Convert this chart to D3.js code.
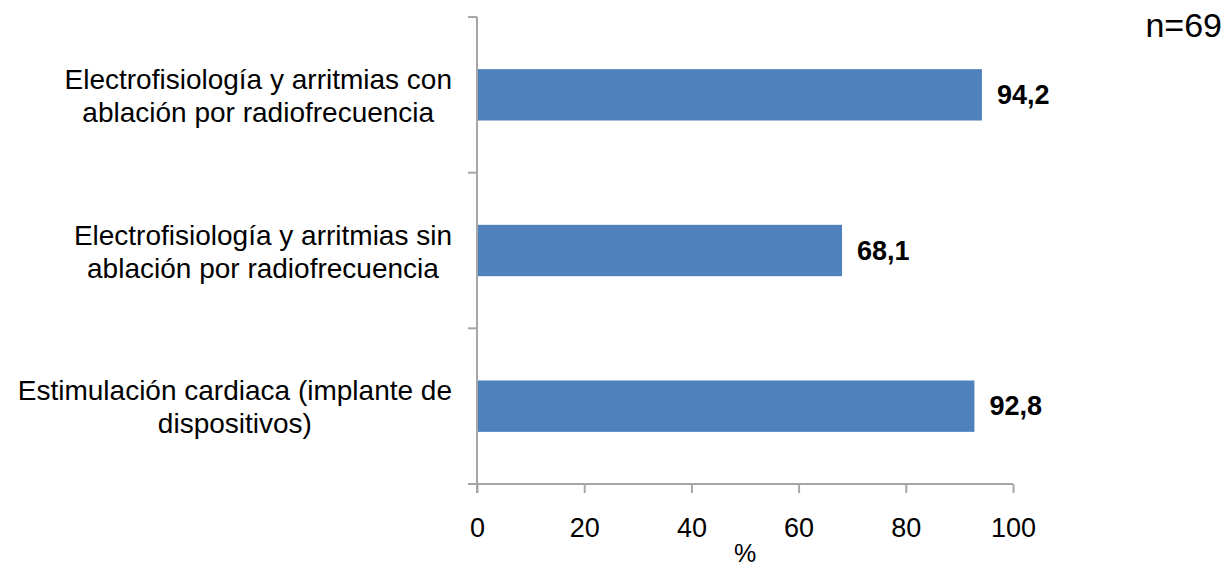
<!DOCTYPE html>
<html><head><meta charset="utf-8">
<script src="https://cdn.jsdelivr.net/npm/d3@7"></script>
<style>body{margin:0;background:#fff;}svg{display:block;font-family:"Liberation Sans",Arial,sans-serif;}</style>
</head><body>
<svg id="c" width="1227" height="568"></svg>
<script>
const categories = [
  ["Electrofisiología y arritmias con", "ablación por radiofrecuencia"],
  ["Electrofisiología y arritmias sin", "ablación por radiofrecuencia"],
  ["Estimulación cardiaca (implante de", "dispositivos)"]
];
const values = [94.2, 68.1, 92.8];
const valueLabels = ["94,2", "68,1", "92,8"];
const xTicks = [0, 20, 40, 60, 80, 100];
const nLabel = "n=69";
const axisTitle = "%";

(function () {
const svg = d3.select("#c");
const mLeft = 477, mRight = 1013, mTop = 17, mBottom = 484;
const x = d3.scaleLinear().domain([0, 100]).range([mLeft, mRight]);
const y = d3.scaleBand().domain(d3.range(categories.length)).range([mTop, mBottom]).paddingInner(0.67).paddingOuter(0.335);
const axisColor = "#a6a6a6";

// bars
svg.selectAll("rect.bar").data(values).join("rect").attr("class", "bar")
  .attr("x", x(0)).attr("y", (d, i) => y(i))
  .attr("width", d => x(d) - x(0)).attr("height", y.bandwidth())
  .attr("fill", "#4f81bd");

// x axis
const xa = svg.append("g").attr("transform", `translate(0,${mBottom})`)
  .call(d3.axisBottom(x).tickValues(xTicks).tickSize(9).tickSizeOuter(9).tickPadding(8).tickFormat(d3.format("d")));
xa.select(".domain").attr("stroke", axisColor).attr("stroke-width", 2).attr("d", `M${mLeft-9},0H${mRight}`);
xa.selectAll(".tick line").attr("stroke", axisColor).attr("stroke-width", 2);
xa.selectAll(".tick text").attr("fill", "#000").style("font-size", "27px")
  .style("font-family", "'Liberation Sans',Arial,sans-serif").attr("dy", null).attr("y", 53);

// y axis line and ticks at band boundaries
const yBounds = d3.range(categories.length + 1).map(i => mTop + i * (mBottom - mTop) / categories.length);
svg.append("line").attr("x1", mLeft).attr("x2", mLeft).attr("y1", mTop).attr("y2", mBottom + 9)
  .attr("stroke", axisColor).attr("stroke-width", 2);
svg.selectAll("line.yt").data(yBounds).join("line").attr("class", "yt")
  .attr("x1", mLeft - 9).attr("x2", mLeft).attr("y1", d => d).attr("y2", d => d)
  .attr("stroke", axisColor).attr("stroke-width", 2);

// category labels: block right-aligned at 452, lines centered within block
const labelRight = 452;
categories.forEach((lines, i) => {
  const cy = y(i) + y.bandwidth() / 2;
  const t = svg.append("text").attr("text-anchor", "middle")
    .style("font-size", "28px").attr("fill", "#000");
  const spans = lines.map((l, j) => t.append("tspan").attr("y", cy - 6 + j * 33).text(l));
  const maxW = d3.max(spans, s => s.node().getComputedTextLength());
  spans.forEach(s => s.attr("x", labelRight - maxW / 2));
});

// value labels
svg.selectAll("text.val").data(values).join("text").attr("class", "val")
  .attr("x", d => x(d) + 15).attr("y", (d, i) => y(i) + y.bandwidth() / 2 + 9)
  .style("font-size", "27px").style("font-weight", "bold").attr("fill", "#000")
  .text((d, i) => valueLabels[i]);

// axis title
svg.append("text").attr("x", (mLeft + mRight) / 2).attr("y", 562).attr("text-anchor", "middle")
  .style("font-size", "25px").attr("fill", "#000").text(axisTitle);

// n label
svg.append("text").attr("x", 1222).attr("y", 37).attr("text-anchor", "end")
  .style("font-size", "34px").attr("fill", "#000").text(nLabel);
})();
</script>
</body></html>
